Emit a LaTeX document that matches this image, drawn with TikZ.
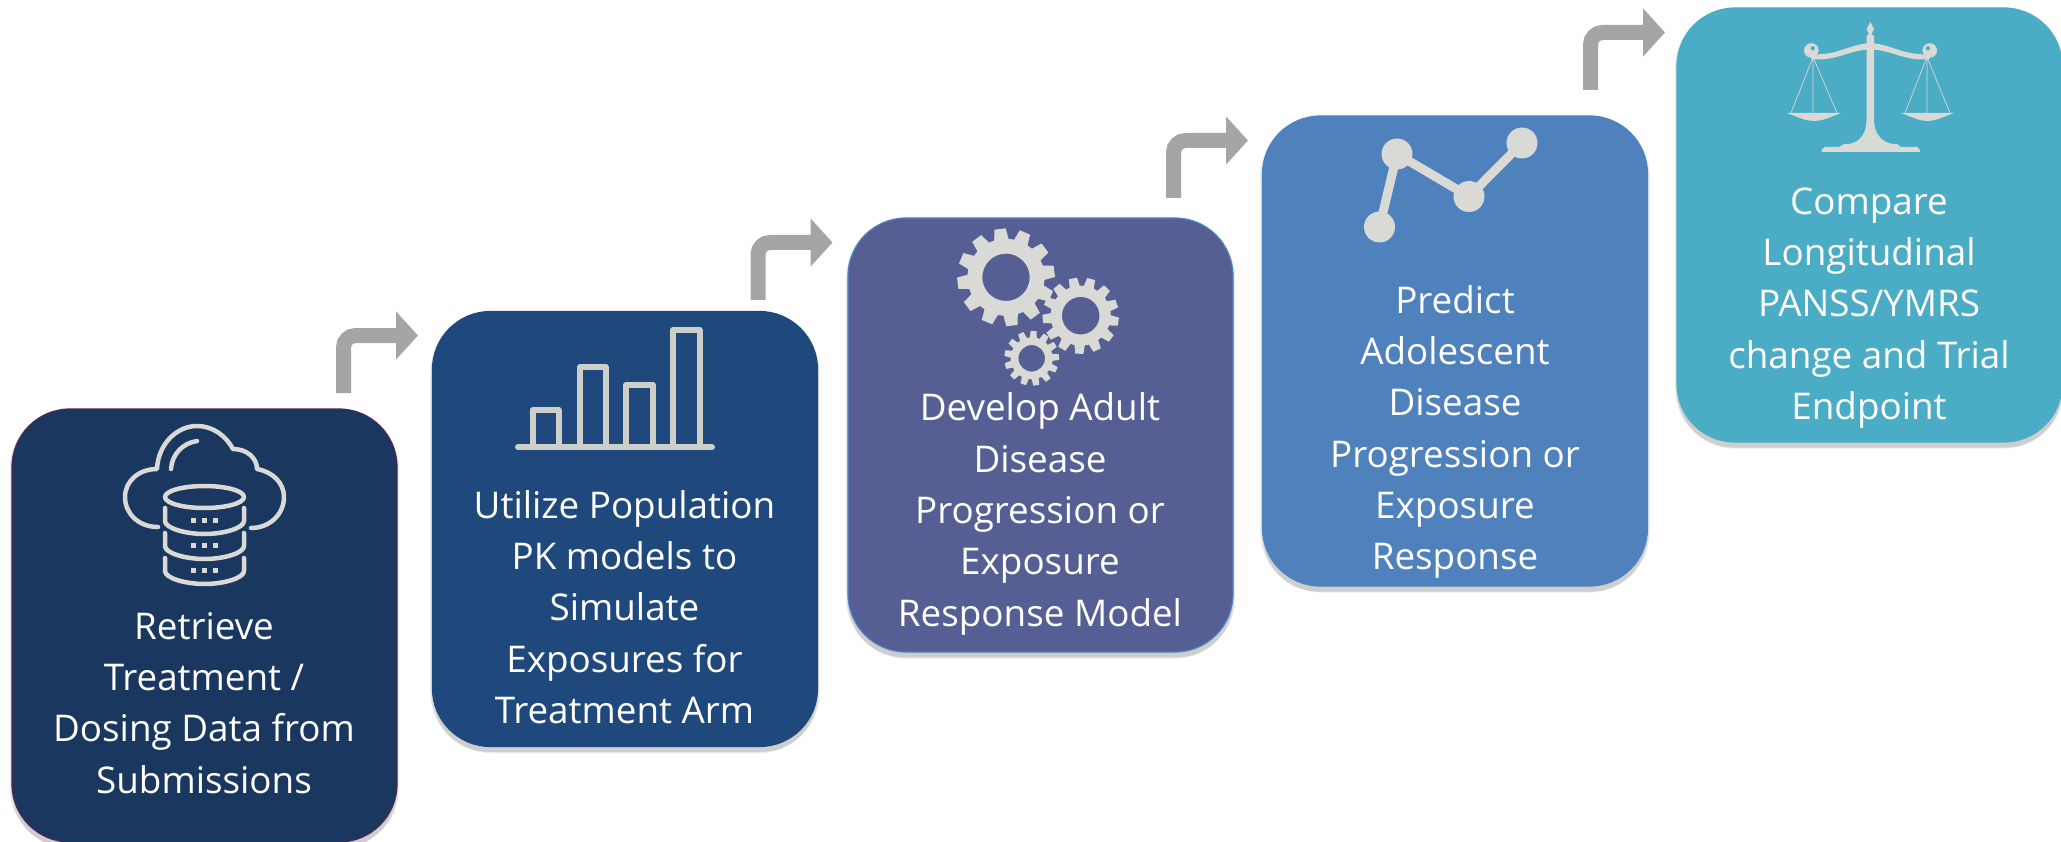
\documentclass[tikz,border=0pt]{standalone}
\usepackage{fontspec}
\setmainfont{Open Sans}
\usetikzlibrary{arrows.meta,shadows}
\definecolor{cA}{HTML}{1A375F}
\definecolor{cB}{HTML}{1F497D}
\definecolor{cC}{HTML}{565F94}
\definecolor{cD}{HTML}{4F81BD}
\definecolor{cE}{HTML}{4BACC6}
\definecolor{iconc}{HTML}{D9D9D6}
\definecolor{barc}{HTML}{CFCFCA}
\definecolor{arrowc}{HTML}{A5A5A5}
\tikzset{
  x=1pt,y=-1pt,
  softshadow/.style={
    general shadow={shadow yshift=-8pt,shadow xshift=0pt,shadow scale=.995,fill=black,opacity=.025},
    general shadow={shadow yshift=-6.5pt,shadow xshift=0pt,shadow scale=1.0,fill=black,opacity=.035},
    general shadow={shadow yshift=-5pt,shadow xshift=0pt,shadow scale=1.004,fill=black,opacity=.05},
    general shadow={shadow yshift=-3.5pt,shadow xshift=0pt,shadow scale=1.008,fill=black,opacity=.05},
    general shadow={shadow yshift=-3pt,shadow xshift=0pt,shadow scale=1.012,fill=black,opacity=.04}},
  stepbox/.style={rectangle,rounded corners=58pt,inner sep=0pt,minimum width=385pt,minimum height=434pt,line width=1.2pt,softshadow},
  steptext/.style={text=white,align=center,inner sep=0pt,font=\fontsize{36.8}{51.3}\selectfont},
  flow/.style={draw=arrowc,line width=15pt,rounded corners=12pt,-{Triangle[length=22pt,width=47pt]}},
  iconline/.style={draw=iconc,line width=4.5pt,line cap=round,line join=round,fill=none},
  iconfill/.style={fill=iconc,draw=none}
}
\newcommand{\geartooth}[6]{% cx cy Rout Rroot hole teeth, rotation in \gearrot
  \begin{scope}[shift={(#1,#2)}]
    \fill[iconfill,even odd rule] (0,0) circle[radius=#4] (0,0) circle[radius=#5];
    \foreach \i in {1,...,#6}{
      \pgfmathsetmacro{\ga}{\i*360/#6+\gearrot}
      \pgfmathsetmacro{\gw}{0.38*360/#6}
      \pgfmathsetmacro{\gv}{0.22*360/#6}
      \fill[iconfill] (\ga-\gw:#4-1) -- (\ga-\gv:#3) -- (\ga+\gv:#3) -- (\ga+\gw:#4-1) -- cycle;
    }
  \end{scope}}
\begin{document}
\begin{tikzpicture}
\useasboundingbox (0,0) rectangle (2061,842);
\fill[white] (0,0) rectangle (2061,842);

% boxes
\node[stepbox,fill=cA,draw=cA!70!purple,minimum height=433pt] (b1) at (204.5,625.5) {};
\node[stepbox,fill=cB,draw=cB,minimum height=435pt] (b2) at (625,529) {};
\node[stepbox,fill=cC,draw=cD,minimum height=434pt] (b3) at (1040.5,435) {};
\node[stepbox,fill=cD,draw=cD,minimum height=470pt] (b4) at (1455,351) {};
\node[stepbox,fill=cE,draw=cE,minimum height=434pt] (b5) at (1869.5,225) {};

% texts
\node[steptext] (t1) at (204,703) {Retrieve\\Treatment /\\Dosing Data from\\Submissions};
\node[steptext] (t2) at (624.5,607) {Utilize Population\\PK models to\\Simulate\\Exposures for\\Treatment Arm};
\node[steptext] (t3) at (1040,514) {Develop Adult\\Disease\\Progression or\\Exposure\\Response Model};
\node[steptext] (t4) at (1455,432) {Predict\\Adolescent\\Disease\\Progression or\\Exposure\\Response};
\node[steptext] (t5) at (1869,308) {Compare\\Longitudinal\\PANSS/YMRS\\change and Trial\\Endpoint};

% connectors
\coordinate (a1s) at (343.5,393); \coordinate (a1e) at (418,335.5);
\coordinate (a2s) at (758,300);   \coordinate (a2e) at (832.5,242.5);
\coordinate (a3s) at (1173.5,198);\coordinate (a3e) at (1248,140.5);
\coordinate (a4s) at (1590.5,90); \coordinate (a4e) at (1665,32.5);
\draw[flow] (a1s) |- (a1e);
\draw[flow] (a2s) |- (a2e);
\draw[flow] (a3s) |- (a3e);
\draw[flow] (a4s) |- (a4e);

% icon 1: cloud and database
\draw[iconline] (158,527) .. controls (138,527) and (125,513) .. (125,497)
  .. controls (125,481) and (139,469) .. (157,469)
  .. controls (158,445) and (176,426) .. (197,426)
  .. controls (213,426) and (226,436) .. (233,449)
  .. controls (247,449) and (257,458) .. (257,469)
  .. controls (273,472) and (284,483) .. (284,497)
  .. controls (284,514) and (270,528) .. (251,528);
\draw[iconline] (171,469) .. controls (172,454) and (183,443) .. (197,441);
\draw[iconline] (204.5,497) ellipse[x radius=39.5,y radius=11];
\draw[iconline] (165,508) -- (165,521) .. controls (165,528) and (185,534) .. (204.5,534) .. controls (224,534) and (244,528) .. (244,521) -- (244,508);
\draw[iconline] (165,533) -- (165,546) .. controls (165,553) and (185,559) .. (204.5,559) .. controls (224,559) and (244,553) .. (244,546) -- (244,533);
\draw[iconline] (165,558) -- (165,571) .. controls (165,578) and (185,584) .. (204.5,584) .. controls (224,584) and (244,578) .. (244,571) -- (244,558);
\foreach \yy in {520,545,570}{\foreach \xx in {193.5,204.5,215.5}{
  \fill[iconc] (\xx-2.5,\yy-2.5) rectangle (\xx+2.5,\yy+2.5);}}

% icon 2: bar chart
\begin{scope}[draw=barc,line width=6pt,line join=round]
\draw (532.5,447) -- (532.5,410) -- (558.5,410) -- (558.5,447);
\draw (580,447) -- (580,367) -- (605.5,367) -- (605.5,447);
\draw (626,447) -- (626,385) -- (653,385) -- (653,447);
\draw (673,447) -- (673,330) -- (699.5,330) -- (699.5,447);
\draw[line cap=round] (518,447) -- (712,447);
\end{scope}

% icon 3: gears
\def\gearrot{23}
\geartooth{1006}{277.3}{49}{38.5}{23.7}{12}
\def\gearrot{9}
\geartooth{1080.7}{315.7}{38.3}{30}{18.8}{13}
\def\gearrot{25}
\geartooth{1031.7}{358.3}{27.5}{21}{13.3}{13}

% icon 4: line chart
\draw[draw=iconc,line width=9pt,line join=miter] (1379.5,227) -- (1397,154) -- (1469,196.5) -- (1522,143);
\foreach \p in {(1379.5,227),(1397,154),(1469,196.5),(1522,143)}{\fill[iconc] \p circle[radius=15.5];}

% icon 5: scales
\begin{scope}
\draw[iconc,line width=.7pt] (1813,57) -- (1791,113) (1813,57) -- (1813,113) (1813,57) -- (1837,113);
\draw[iconc,line width=.7pt] (1927,57) -- (1905,113) (1927,57) -- (1927,113) (1927,57) -- (1950,113);
\fill[iconc] (1787,113) .. controls (1800,118) and (1806,121) .. (1814,121) .. controls (1822,121) and (1828,118) .. (1841,113) -- cycle;
\fill[iconc] (1901,113) .. controls (1914,118) and (1920,121) .. (1927,121) .. controls (1935,121) and (1941,118) .. (1954,113) -- cycle;
% post and base
\fill[iconc] (1870.3,22) -- (1874,29) -- (1871.5,34) -- (1874,36) -- (1874,120)
  .. controls (1874,132) and (1880,142) .. (1893,144) -- (1897,144) -- (1901,147) -- (1917,147)
  .. controls (1919,148) and (1920,150) .. (1920,152) -- (1821.5,152)
  .. controls (1821.5,150) and (1822,148) .. (1825,147) -- (1839,147) -- (1844,144) -- (1849,144)
  .. controls (1861,142) and (1866.5,132) .. (1866.5,120) -- (1866.5,36) -- (1869,34) -- (1866.5,29) -- cycle;
% beam
\fill[iconc] (1870.3,43) .. controls (1852,44) and (1838,54) .. (1820,54) -- (1811,57) -- (1811,59)
  .. controls (1835,62) and (1848,50) .. (1870.3,49.5) -- cycle;
\fill[iconc] (1870.3,43) .. controls (1888.6,44) and (1902.6,54) .. (1920.6,54) -- (1929.6,57) -- (1929.6,59)
  .. controls (1905.6,62) and (1892.6,50) .. (1870.3,49.5) -- cycle;
\fill[iconc,even odd rule] (1811.3,50.5) circle[radius=7.3] (1812.7,48.3) circle[radius=2.3];
\fill[iconc,even odd rule] (1929.7,50.5) circle[radius=7.3] (1927.9,48.3) circle[radius=2.3];
\end{scope}
\end{tikzpicture}
\end{document}
